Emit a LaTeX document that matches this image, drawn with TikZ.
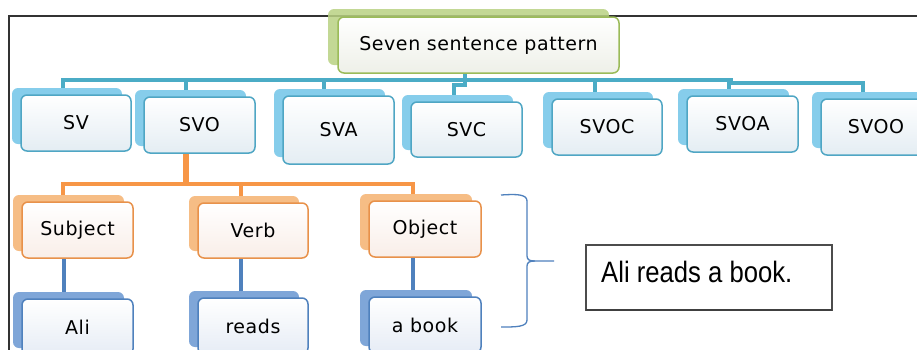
\documentclass[tikz,border=0pt]{standalone}
\usepackage{fontspec}
\setmainfont{DejaVu Sans}[LetterSpace=3]
\newfontfamily\sentfont{Liberation Sans}
\usetikzlibrary{shadows,backgrounds}
\definecolor{ctealline}{HTML}{4BACC6}
\definecolor{ctealborder}{HTML}{4FA6C4}
\definecolor{ctealshadow}{HTML}{86CDEB}
\definecolor{ctealfront}{HTML}{E4EDF3}
\definecolor{corline}{HTML}{F79646}
\definecolor{corborder}{HTML}{E8914A}
\definecolor{corshadow}{HTML}{F6BD85}
\definecolor{corfront}{HTML}{F9EEE8}
\definecolor{cblline}{HTML}{4F81BD}
\definecolor{cblborder}{HTML}{4F81BD}
\definecolor{cblshadow}{HTML}{7FA6D8}
\definecolor{cblfront}{HTML}{E6ECF5}
\definecolor{cgrborder}{HTML}{9BBB59}
\definecolor{cgrshadow}{HTML}{B9D283}
\definecolor{cgrfront}{HTML}{EEF0E8}
\tikzset{
  pbox/.style={rounded corners=6pt, minimum height=56pt, minimum width=111pt,
    inner sep=0pt, line width=1.5pt, font=\fontsize{19}{22}\selectfont, text=black},
  lvroot/.style={pbox, draw=cgrborder, top color=white, bottom color=cgrfront,
    copy shadow={shadow xshift=-10pt, shadow yshift=8pt, fill=cgrshadow, draw=none, opacity=0.85}},
  lvone/.style={pbox, draw=ctealborder, top color=white, bottom color=ctealfront,
    copy shadow={shadow xshift=-9pt, shadow yshift=7pt, fill=ctealshadow, draw=none}},
  lvtwo/.style={pbox, draw=corborder, top color=white, bottom color=corfront,
    copy shadow={shadow xshift=-9pt, shadow yshift=7pt, fill=corshadow, draw=none}},
  lvthree/.style={pbox, draw=cblborder, top color=white, bottom color=cblfront,
    copy shadow={shadow xshift=-9pt, shadow yshift=7pt, fill=cblshadow, draw=none}},
  lineone/.style={draw=ctealline, line width=4pt},
  linetwo/.style={draw=corline, line width=4pt},
  linethree/.style={draw=cblline, line width=4.5pt},
  bracestyle/.style={draw=cblline, line width=1.3pt},
}
\begin{document}
\begin{tikzpicture}[x=1pt, y=-1pt]
\useasboundingbox (0,0) rectangle (917,349);
\clip (0,0) rectangle (917,349);
% frame
\draw[line width=2pt, black!80] (9,352) -- (9,16) -- (920,16);
% root
\node[lvroot, minimum width=281pt] (root) at (478.5,45) {Seven sentence pattern};
% level one
\node[lvone, minimum width=110pt] (sv) at (76,123) {SV};
\node[lvone] (svo) at (199.5,125) {SVO};
\node[lvone, minimum height=68pt] (sva) at (338.5,130) {SVA};
\node[lvone, minimum height=55pt] (svc) at (466.5,129.5) {SVC};
\node[lvone, minimum width=110pt] (svoc) at (607,127) {SVOC};
\node[lvone] (svoa) at (742.5,124) {SVOA};
\node[lvone, minimum width=110pt] (svoo) at (876,127) {SVOO};
% level two
\node[lvtwo] (subj) at (77.5,230) {Subject};
\node[lvtwo, minimum width=110pt, minimum height=55pt] (verb) at (253,230.5) {Verb};
\node[lvtwo, minimum width=112pt] (obj) at (425,229) {Object};
% level three
\node[lvthree] (ali) at (77.5,327) {Ali};
\node[lvthree, minimum width=110pt] (reads) at (253,326) {reads};
\node[lvthree, minimum width=112pt] (book) at (425,325) {a book};
% connectors
\begin{scope}[on background layer]
\fill[white] (0,0) rectangle (917,349);
\coordinate (hub) at (465,80);
\draw[lineone] ([xshift=-13.5pt]root.south) -- (hub);
\draw[lineone] (hub) -| ([xshift=-13pt]sv.north);
\draw[lineone] (hub) -| ([xshift=-13.5pt]svo.north);
\draw[lineone] (hub) -| ([xshift=-14.5pt]sva.north);
\draw[lineone] (hub) -- ++(0,5) -| ([xshift=-12.5pt]svc.north);
\draw[lineone] (hub) -| ([xshift=-12pt]svoc.north);
\draw[lineone] (hub) -| ([xshift=-13.5pt]svoa.north);
\draw[lineone] (hub) -- (731,80) -- (731,83) -| ([xshift=-13pt]svoo.north);
\coordinate (ohub) at (186,184);
\draw[linetwo, line width=6pt] ([xshift=-13.5pt]svo.south) -- (ohub);
\draw[linetwo] (ohub) -| ([xshift=-14.5pt]subj.north);
\draw[linetwo] (ohub) -| ([xshift=-12pt]verb.north);
\draw[linetwo] (ohub) -| ([xshift=-12pt]obj.north);
\draw[linethree] ([xshift=-13.5pt]subj.south) -- ([xshift=-13.5pt]ali.north);
\draw[linethree] ([xshift=-12pt]verb.south) -- ([xshift=-12pt]reads.north);
\draw[linethree] ([xshift=-12pt]obj.south) -- ([xshift=-12pt]book.north);
\end{scope}
% brace
\draw[bracestyle] (501,195) .. controls (516,194) and (527,194) .. (527,201) -- (527,256)
  .. controls (527,260) and (530,261) .. (535,261) -- (554,261);
\draw[bracestyle] (535,261) .. controls (530,261) and (527,262) .. (527,266) -- (527,320)
  .. controls (527,327) and (516,327) .. (501,327);
% sentence box
\draw[line width=1.5pt, black!70] (586,245) rectangle (832,310);
\draw[line width=2.5pt, black!75] (586,310) -- (832,310);
\node[anchor=base west, inner sep=0pt, font=\sentfont\fontsize{29.5}{32}\selectfont] (sent) at (601,282) {\scalebox{0.87}[1]{Ali reads a book.}};
\end{tikzpicture}
\end{document}
